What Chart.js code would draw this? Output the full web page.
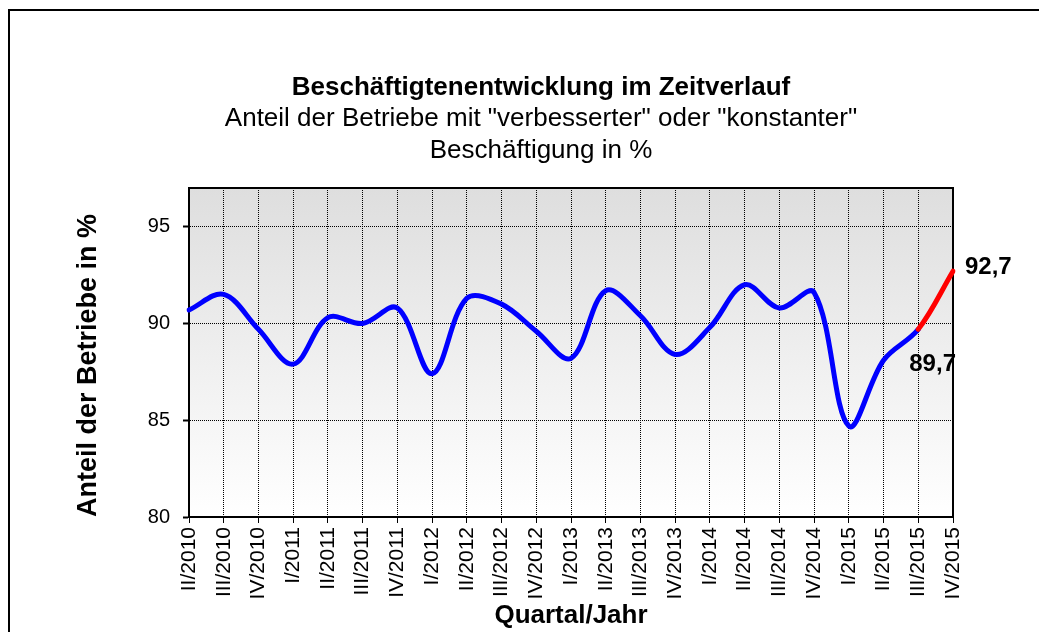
<!DOCTYPE html>
<html lang="de">
<head>
<meta charset="utf-8">
<title>Beschäftigtenentwicklung im Zeitverlauf</title>
<script src="https://cdn.jsdelivr.net/npm/chart.js@4/dist/chart.umd.min.js"></script>
<style>
  html, body { margin: 0; padding: 0; background: #fff; overflow: hidden; }
  #wrap { position: relative; width: 1039px; height: 632px; }
  #frame { position: absolute; left: 8px; top: 9px; width: 1100px; height: 700px; border: 2px solid #000; }
  canvas { position: absolute; left: 0; top: 0; }
</style>
</head>
<body>
<div id="wrap">
  <div id="frame"></div>
  <canvas id="chart" width="1039" height="632"></canvas>
</div>
<script>
// Quartale
const quarters = ['II/2010', 'III/2010', 'IV/2010', 'I/2011', 'II/2011', 'III/2011', 'IV/2011',
  'I/2012', 'II/2012', 'III/2012', 'IV/2012', 'I/2013', 'II/2013', 'III/2013', 'IV/2013',
  'I/2014', 'II/2014', 'III/2014', 'IV/2014', 'I/2015', 'II/2015', 'III/2015', 'IV/2015'];

// Anteil der Betriebe in %
const shares = [90.7, 91.5, 89.7, 87.9, 90.3, 90.0, 90.8, 87.4, 91.3, 91.0, 89.6, 88.2,
  91.7, 90.4, 88.4, 89.8, 92.0, 90.8, 91.6, 84.7, 88.1, 89.7, 92.7];

const yTicks = [80, 85, 90, 95];
const yMin = 80;
const yMax = 97;

// last segment (III/2015 -> IV/2015) is drawn red, both ends get a label
const redFrom = quarters.length - 2;
const labelled = [quarters.length - 2, quarters.length - 1];

const titleText = 'Beschäftigtenentwicklung im Zeitverlauf';
const subtitleText = ['Anteil der Betriebe mit "verbesserter" oder "konstanter"', 'Beschäftigung in %'];

Chart.defaults.font.family = '"Liberation Sans", Arial, sans-serif';
Chart.defaults.color = '#000';

const plotBackground = {
  id: 'plotBackground',
  beforeDraw(chart) {
    const { ctx, chartArea: a } = chart;
    const g = ctx.createLinearGradient(0, a.top, 0, a.bottom);
    g.addColorStop(0, '#dedede');
    g.addColorStop(1, '#ffffff');
    ctx.save();
    ctx.fillStyle = g;
    ctx.fillRect(a.left, a.top, a.right - a.left, a.bottom - a.top);
    ctx.restore();
  },
  beforeDatasetsDraw(chart) {
    const { ctx, chartArea: a } = chart;
    ctx.save();
    ctx.strokeStyle = '#000';
    ctx.lineWidth = 2;
    ctx.strokeRect(a.left, a.top, a.right - a.left, a.bottom - a.top);
    ctx.restore();
  }
};

const endLabels = {
  id: 'endLabels',
  afterDatasetsDraw(chart) {
    const { ctx } = chart;
    const pts = chart.getDatasetMeta(0).data;
    ctx.save();
    ctx.font = 'bold 24px "Liberation Sans", Arial, sans-serif';
    ctx.fillStyle = '#000';
    ctx.textAlign = 'left';
    ctx.textBaseline = 'middle';
    const offs = [[-9, 35], [12, -4]];
    labelled.forEach((i, k) => {
      const txt = shares[i].toFixed(1).replace('.', ',');
      ctx.fillText(txt, pts[i].x + offs[k][0], pts[i].y + offs[k][1]);
    });
    ctx.restore();
  }
};

new Chart(document.getElementById('chart').getContext('2d'), {
  type: 'line',
  data: {
    labels: quarters,
    datasets: [{
      data: shares,
      borderColor: '#0000ff',
      borderWidth: 5,
      pointRadius: 0,
      tension: 0.35,
      fill: false,
      borderCapStyle: 'round',
      borderJoinStyle: 'round',
      segment: {
        borderColor: c => c.p0DataIndex >= redFrom ? '#ff0000' : '#0000ff'
      }
    }]
  },
  options: {
    responsive: false,
    animation: false,
    layout: { padding: { left: 43, right: 0, top: 0, bottom: 0 } },
    plugins: {
      legend: { display: false },
      tooltip: { enabled: false },
      title: {
        display: true,
        text: titleText,
        color: '#000',
        font: { size: 26, weight: 'bold', lineHeight: 1.2 },
        padding: { top: 72.4, bottom: 0 }
      },
      subtitle: {
        display: true,
        text: subtitleText,
        color: '#000',
        font: { size: 26, weight: 'normal', lineHeight: 1.2 },
        padding: { top: 0, bottom: 22 }
      }
    },
    scales: {
      x: {
        type: 'category',
        offset: false,
        afterFit(s) { s.height = 115; s.paddingRight = 86; },
        ticks: {
          autoSkip: false,
          minRotation: 90,
          maxRotation: 90,
          padding: 4,
          color: '#000',
          font: { size: 21 }
        },
        grid: {
          color: '#000',
          lineWidth: 1,
          drawTicks: true,
          tickLength: 6,
          tickColor: '#000',
          tickWidth: 1,
          tickBorderDash: []
        },
        border: { display: true, color: '#000', width: 2, dash: [1, 1] },
        title: {
          display: true,
          text: 'Quartal/Jahr',
          color: '#000',
          font: { size: 26, weight: 'bold', lineHeight: 1.2 },
          padding: { top: 0, bottom: 1 }
        }
      },
      y: {
        min: yMin,
        max: yMax,
        afterFit(s) { s.width = 146; },
        afterBuildTicks(s) { s.ticks = yTicks.map(v => ({ value: v })); },
        ticks: {
          padding: 13,
          color: '#000',
          font: { size: 20 }
        },
        grid: {
          color: '#000',
          lineWidth: 1,
          drawTicks: true,
          tickLength: 6,
          tickColor: '#000',
          tickWidth: 2,
          tickBorderDash: []
        },
        border: { display: true, color: '#000', width: 2, dash: [1, 1] },
        title: {
          display: true,
          text: 'Anteil der Betriebe in %',
          align: 'start',
          color: '#000',
          font: { size: 27, weight: 'bold', lineHeight: 1.2 },
          padding: { top: 29, bottom: 0 }
        }
      }
    }
  },
  plugins: [plotBackground, endLabels]
});
</script>
</body>
</html>
